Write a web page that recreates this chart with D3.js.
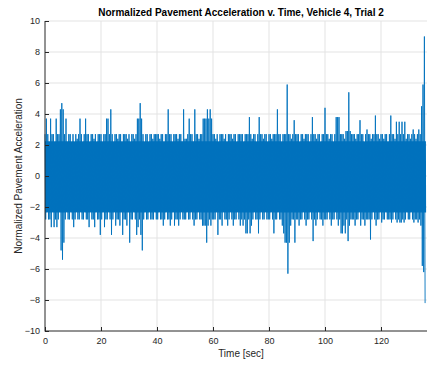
<!DOCTYPE html>
<html>
<head>
<meta charset="utf-8">
<script src="https://cdn.jsdelivr.net/npm/d3@7"></script>
<style>
  body { margin: 0; background: #fff; }
  svg { display: block; font-family: "Liberation Sans", Arial, sans-serif; }
</style>
</head>
<body>
<svg id="chart" width="427" height="365"></svg>
<script>
// per 0.5 s bin: positive and negative peaks
const binSize = 0.5
const upperPeaks = [
  2.7,3.7,2.7,2.2,3.7,2.7,2.7,2.2,3.7,2.7,2.7,4.3,4.7,4.3,2.7,3.7,2.2,2.7,2.7,2.2,
  2.7,2.2,2.7,2.4,2.7,3.7,2.7,2.2,2.7,3.7,2.7,2.7,2.2,2.7,2.7,2.4,2.7,2.2,2.7,2.7,
  2.7,2.2,2.7,2.7,3.7,3.7,2.7,4.3,2.7,2.2,2.7,2.7,2.4,2.7,2.7,2.2,2.7,2.7,2.7,2.4,
  2.7,2.2,2.7,2.7,2.4,2.7,3.7,3.7,4.7,3.7,2.7,2.2,2.7,2.7,2.2,2.7,2.7,2.4,2.7,2.7,
  2.7,2.7,2.4,2.7,2.7,2.2,2.7,2.7,4.3,2.7,2.7,2.2,2.7,2.7,2.7,2.4,2.7,2.7,2.2,4.3,
  2.4,2.4,2.7,3.7,2.7,2.7,2.2,4.3,2.7,2.7,2.4,2.7,2.7,3.7,3.7,3.7,4.3,3.7,4.3,3.7,
  2.7,2.7,2.4,2.7,2.2,2.7,2.7,2.7,2.4,2.7,2.2,2.7,2.7,2.7,2.4,2.7,2.7,2.2,2.7,2.7,
  2.7,2.7,2.2,2.7,2.7,2.7,3.8,2.7,2.4,2.7,2.7,2.2,2.7,3.8,2.7,2.7,2.4,2.7,2.7,2.2,
  2.7,2.7,2.4,2.7,2.7,2.7,4.3,2.7,2.7,2.2,2.7,2.7,2.7,5.9,2.7,2.7,2.4,2.7,3.6,2.7,
  2.7,2.7,2.2,2.7,2.7,2.4,2.7,2.7,2.7,2.2,2.7,3.8,2.7,2.7,2.4,2.7,2.7,2.2,2.7,2.7,
  4.4,2.7,2.7,2.4,2.7,2.7,2.2,2.7,3.8,3.8,3.8,2.7,2.7,2.7,2.4,2.9,2.9,5.4,2.9,2.7,
  2.7,2.7,2.4,2.7,2.7,3.6,2.7,2.7,2.2,2.7,3.0,2.7,2.7,2.4,2.7,2.7,3.9,2.7,2.7,2.4,
  2.7,2.7,2.4,2.7,2.7,2.2,2.7,3.9,2.7,2.7,2.4,3.5,2.7,3.5,2.7,3.5,2.7,3.5,2.4,2.7,
  2.7,2.4,2.7,3.0,2.7,2.4,2.7,3.0,2.7,4.5,5.9,9.0
]
const lowerPeaks = [
  -2.8,-2.3,-2.8,-2.8,-3.3,-2.3,-3.3,-2.8,-3.3,-2.8,-2.3,-4.8,-5.4,-4.3,-2.8,-2.3,-2.8,-2.8,-2.3,-2.8,
  -3.3,-2.8,-2.3,-2.8,-2.8,-2.3,-2.8,-2.8,-2.3,-2.8,-2.8,-3.3,-2.3,-2.8,-2.8,-3.3,-2.3,-2.8,-2.8,-3.8,
  -2.8,-2.3,-3.3,-2.8,-2.8,-2.3,-2.8,-3.8,-2.8,-2.3,-3.2,-2.8,-2.8,-3.2,-2.3,-3.8,-2.8,-2.8,-3.2,-2.3,
  -4.3,-2.8,-2.8,-2.3,-2.8,-3.8,-3.3,-2.8,-3.8,-4.8,-2.8,-2.3,-2.8,-2.8,-2.3,-2.8,-2.8,-2.8,-2.3,-2.8,
  -2.8,-2.3,-2.8,-2.8,-3.2,-2.8,-2.3,-2.8,-2.8,-3.2,-2.8,-2.3,-3.2,-2.8,-2.8,-3.2,-2.8,-2.3,-2.8,-2.8,
  -2.8,-2.3,-2.8,-2.8,-2.3,-2.8,-3.2,-2.8,-2.8,-2.3,-2.8,-2.8,-3.2,-3.2,-3.2,-4.3,-3.2,-2.8,-3.2,-2.8,
  -2.8,-2.8,-2.3,-3.8,-2.8,-2.8,-3.2,-2.3,-2.8,-2.8,-3.2,-2.8,-2.3,-2.8,-3.2,-2.8,-2.8,-2.3,-2.8,-3.2,
  -2.8,-3.2,-2.8,-3.7,-3.7,-2.8,-3.7,-3.2,-2.8,-2.3,-2.8,-2.8,-3.7,-2.8,-2.3,-2.8,-2.8,-2.3,-2.8,-2.8,
  -2.8,-2.3,-2.8,-3.7,-2.8,-2.8,-2.3,-2.8,-2.8,-3.2,-3.7,-4.3,-4.3,-6.3,-4.3,-3.2,-2.8,-2.8,-4.3,-2.8,
  -2.8,-3.2,-2.8,-2.8,-2.3,-2.8,-3.2,-2.8,-2.8,-2.3,-2.8,-4.2,-2.8,-3.2,-2.8,-2.3,-2.8,-2.8,-3.2,-2.8,
  -2.8,-2.8,-2.3,-2.8,-3.2,-2.8,-2.8,-2.3,-2.8,-3.2,-2.8,-3.7,-3.7,-3.2,-3.7,-2.8,-4.2,-3.2,-2.8,-2.8,
  -2.8,-3.2,-2.8,-2.8,-2.3,-3.2,-2.8,-2.8,-3.2,-2.8,-2.8,-2.8,-4.1,-2.8,-2.3,-2.8,-3.2,-2.8,-2.8,-2.3,
  -3.0,-2.8,-2.8,-2.3,-2.8,-2.8,-2.8,-3.0,-2.8,-2.3,-2.8,-3.0,-2.8,-3.0,-3.0,-2.8,-3.0,-2.8,-2.3,-2.8,
  -2.8,-2.3,-2.8,-3.0,-2.8,-2.8,-3.0,-2.8,-3.2,-5.8,-6.2,-8.2
]
const xTicks = [0, 20, 40, 60, 80, 100, 120]
const yTicks = [-10, -8, -6, -4, -2, 0, 2, 4, 6, 8, 10]
// level below which the dense trace overprints into a solid band
const coreTop = 2.25, coreBottom = -2.35

const blue = '#0072bd', axisColor = '#262626', gridColor = '#e3e3e3'
const svg = d3.select('#chart')

var xScale = d3.scaleLinear().domain([0, 140]).range([45, 437])
var yScale = d3.scaleLinear().domain([-10, 10]).range([331, 21])

// grid
svg.append('g').selectAll('line.gx')
    .data(xTicks.slice(1))
    .enter().append('line')
    .attr('x1', d => xScale(d)).attr('x2', d => xScale(d))
    .attr('y1', yScale(-10)).attr('y2', yScale(10))
    .style('stroke', gridColor).style('stroke-width', 1)
svg.append('g').selectAll('line.gy')
    .data(yTicks.slice(1))
    .enter().append('line')
    .attr('x1', xScale(0)).attr('x2', xScale(140))
    .attr('y1', d => yScale(d)).attr('y2', d => yScale(d))
    .style('stroke', gridColor).style('stroke-width', 1)

// signal
var points = []
upperPeaks.forEach((v, i) => {
    points.push([i * binSize, v])
    points.push([i * binSize + binSize / 2, lowerPeaks[i]])
})
var line = d3.line().x(d => xScale(d[0])).y(d => yScale(d[1]))

svg.append('clipPath').attr('id', 'core')
    .append('rect')
    .attr('x', xScale(0)).attr('width', xScale(140) - xScale(0))
    .attr('y', yScale(coreTop)).attr('height', yScale(coreBottom) - yScale(coreTop))

svg.append('path')
    .attr('d', line(points))
    .attr('clip-path', 'url(#core)')
    .style('fill', 'none')
    .style('stroke', blue)
    .style('stroke-width', 2.5)
svg.append('path')
    .attr('d', line(points))
    .style('fill', 'none')
    .style('stroke', blue)
    .style('stroke-width', 0.9)

// axes, ticks inside
var xAxis = d3.axisTop(xScale).tickValues(xTicks).tickSize(4).tickFormat(d3.format('d'))
var xg = svg.append('g').attr('transform', 'translate(0,331)').call(xAxis)
xg.selectAll('text').attr('y', 13).attr('dy', 0).style('fill', axisColor).style('font-size', '9px')

var yAxis = d3.axisRight(yScale).tickValues(yTicks).tickSize(4)
var yg = svg.append('g').attr('transform', 'translate(45,0)').call(yAxis)
yg.selectAll('text').attr('x', -5).attr('dy', '0.32em')
    .style('text-anchor', 'end').style('fill', axisColor).style('font-size', '9px')

svg.selectAll('.domain').style('stroke', axisColor).style('stroke-width', 1)
svg.selectAll('.tick line').style('stroke', axisColor)
xg.select('.domain').attr('d', 'M45.5,0H437')
yg.select('.domain').attr('d', 'M0,331.5V21')

// labels
svg.append('text')
    .attr('x', 241).attr('y', 16)
    .attr('text-anchor', 'middle')
    .style('font-size', '10px').style('font-weight', 'bold').style('fill', '#000')
    .text('Normalized Pavement Acceleration v. Time, Vehicle 4, Trial 2')
svg.append('text')
    .attr('x', 241).attr('y', 357)
    .attr('text-anchor', 'middle')
    .style('font-size', '10px').style('fill', axisColor)
    .text('Time [sec]')
svg.append('text')
    .attr('transform', 'translate(22,176) rotate(-90)')
    .attr('text-anchor', 'middle')
    .style('font-size', '10px').style('fill', axisColor)
    .text('Normalized Pavement Acceleration')
</script>
</body>
</html>
